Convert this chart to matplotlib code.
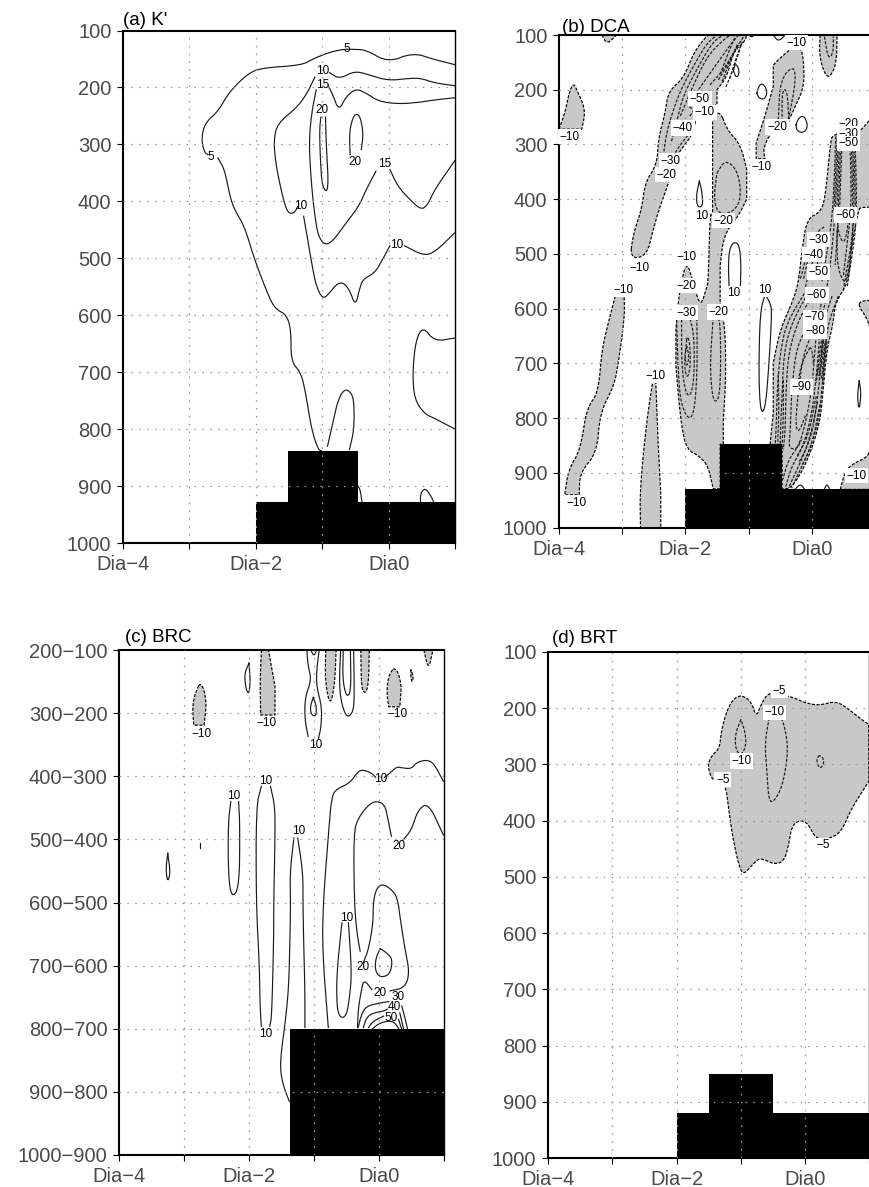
import matplotlib
matplotlib.use("Agg")
import matplotlib.pyplot as plt

W, H = 870, 1187
plt.rcParams['font.family'] = ['Liberation Sans', 'DejaVu Sans']

DAY_TICKS = [-4, -3, -2, -1, 0, 1]
DAY_LABELS = ['Dia\u22124', '', 'Dia\u22122', '', 'Dia0', '']
P_TICKS = [100, 200, 300, 400, 500, 600, 700, 800, 900, 1000]
C_TICKS = [150, 250, 350, 450, 550, 650, 750, 850, 950]
C_LABELS = ['200\u2212100', '300\u2212200', '400\u2212300', '500\u2212400', '600\u2212500',
            '700\u2212600', '800\u2212700', '900\u2212800', '1000\u2212900']

# ---------- panel (a) K' : contour lines as (day, hPa) ----------
a_5_main = [(1.0,160),(.69,151),(.37,139),(-.01,156),(-.34,134),(-.54,133),(-.69,133),(-.91,139),(-1.14,150),(-1.31,161),
            (-1.94,166),(-2.14,178),(-2.34,201),(-2.44,216),(-2.57,242),(-2.77,263),(-2.82,292),(-2.77,315),(-2.72,318)]
a_5_low = [(-2.57,324),(-2.47,344),(-2.39,391),(-2.32,415),(-2.17,444),(-2.02,502),(-1.79,572),(-1.69,590),(-1.54,599),
           (-1.47,625),(-1.47,681),(-1.32,701),(-1.25,736),(-1.16,801),(-1.06,836),(-1.01,838)]
a_10_top = [(-.89,174),(-.74,185),(-.51,171),(-.29,178),(-.01,188),(.32,184),(.49,184),(.69,192),(1.0,197)]
a_10_left = [(-1.11,182),(-1.24,213),(-1.39,236),(-1.67,263),(-1.73,292),(-1.70,333),(-1.62,380),(-1.54,415),(-1.48,422),(-1.41,419),(-1.37,409)]
a_10_mid = [(-1.28,426),(-1.21,473),(-1.15,514),(-1.09,549),(-.99,572),(-.89,561),(-.79,546),(-.69,542),(-.59,555),(-.50,584),
            (-.44,555),(-.39,537),(-.21,526),(-.09,502),(.02,478)]
a_10_right = [(.24,478),(.52,495),(.69,490),(1.0,455)]
a_15_right = [(-.91,197),(-.84,213),(-.75,241),(-.64,216),(-.49,202),(-.34,210),(-.14,225),(.17,229),(.47,226),(.69,222),(1.0,218)]
a_15_left = [(-1.09,204),(-1.16,245),(-1.20,298),(-1.16,374),(-1.11,426),(-1.06,461),(-.96,477),(-.84,470),(-.64,438),(-.45,409),(-.34,380),(-.19,347)]
a_15_low = [(.02,344),(.14,374),(.32,397),(.49,415),(.59,406),(.69,380),(1.0,328)]
a_20_left = [(-.95,252),(-.94,298),(-.90,384),(-1.0,377),(-1.03,321),(-1.04,274),(-1.02,252)]
a_20_right = [(-.58,318),(-.59,280),(-.55,257),(-.50,246),(-.43,250),(-.38,280),(-.41,309)]
a_lobe_mid = [(-.92,830),(-.84,789),(-.76,748),(-.66,729),(-.56,736),(-.52,754),(-.52,801),(-.59,836)]
a_lobe_foot = [(-.46,900),(-.43,906),(-.40,928)]
a_lobe_right = [(1.0,640),(.69,646),(.52,620),(.41,643),(.36,701),(.39,748),(.54,773),(.69,781),(1.0,800)]
a_lobe_base = [(.48,929),(.48,913),(.55,903),(.64,918),(.68,928)]
a_lines = [a_5_main, a_5_low, a_10_top, a_10_left, a_10_mid, a_10_right, a_15_right, a_15_left, a_15_low,
           a_20_left, a_20_right, a_lobe_mid, a_lobe_foot, a_lobe_right, a_lobe_base]
a_labels = [(-.63,133,'5'),(-2.68,322,'5'),(-1.0,172,'10'),(-1.0,195,'15'),(-1.0,240,'20'),(-.5,331,'20'),
            (-.06,335,'15'),(-1.32,408,'10'),(.12,477,'10')]
a_terrain_day = [-2, -1.51, -.46, 1]
a_terrain_p = [928, 838, 928, 928]

# ---------- panel (b) DCA ----------
b_s1 = [(-4.0,272),(-3.90,240),(-3.84,205),(-3.77,187),(-3.70,205),(-3.62,225),(-3.59,245),(-3.64,272)]
b_s2 = [(-3.32,100),(-3.24,117),(-3.09,100)]
b_s3 = [(-2.88,509),(-2.82,461),(-2.69,418),(-2.64,370),(-2.45,336),(-2.43,291),(-2.32,242),(-2.27,203),(-2.03,179),(-1.87,133),
        (-1.71,108),(-1.64,100),(-1.03,100),(-1.06,112),(-1.24,130),(-1.34,176),(-1.50,200),(-1.50,227),(-1.82,242),(-1.87,279),
        (-2.03,303),(-2.14,321),(-2.30,382),(-2.40,412),(-2.51,455),(-2.61,503)]
b_s4 = [(-1.45,239),(-1.34,273),(-1.13,300),(-1.03,345),(-1.03,400),(-1.16,430),(-1.29,448),(-1.40,473),(-1.45,521),(-1.45,589),
        (-1.37,638),(-1.36,729),(-1.40,802),(-1.40,848),(-1.45,848),(-1.45,929),(-1.56,929),(-1.64,888),(-1.77,870),(-1.98,857),
        (-2.06,815),(-2.11,760),(-2.15,705),(-2.15,638),(-2.12,595),(-2.08,560),(-1.98,512),(-1.87,555),(-1.76,598),(-1.66,559),
        (-1.64,552),(-1.61,424),(-1.57,430),(-1.57,250)]
b_s5 = [(-3.11,577),(-3.22,626),(-3.32,674),(-3.38,754),(-3.56,781),(-3.66,857),(-3.85,894),(-3.91,940),(-3.68,940),(-3.67,900),
        (-3.40,863),(-3.35,790),(-3.13,741),(-3.06,699),(-2.96,613),(-2.97,577)]
b_s6 = [(-2.51,729),(-2.61,802),(-2.72,930),(-2.71,1000),(-2.39,1000),(-2.39,937),(-2.43,851),(-2.47,729)]
b_s7 = [(-.66,848),(-.61,790),(-.61,699),(-.50,638),(-.29,583),(-.21,551),(-.16,497),(-.08,436),(.13,424),(.21,400),(.29,303),(.33,279),
        (.71,282),(.92,255),(1.0,245),(1.0,412),(.87,415),(.79,415),(.74,418),(.63,485),(.58,552),(.37,589),(.34,626),(.24,674),(.18,748),
        (.13,809),(-.08,882),(-.32,928),(-.47,929),(-.47,848)]
b_s8 = [(.74,595),(.77,586),(1.0,584),(1.0,660),(.92,635),(.87,617)]
b_s9 = [(.45,930),(.52,900),(.62,885),(.90,870),(.92,850),(1.0,840),(1.0,930)]
b_s10 = [(-.32,124),(-.18,121),(-.13,145),(-.12,194),(-.26,230),(-.37,258),(-.66,279),(-.77,309),(-.74,326),(-.88,326),(-.88,297),
         (-.74,248),(-.61,194),(-.61,155),(-.50,142)]
b_s11 = [(.13,100),(.12,139),(.21,173),(.29,177),(.39,152),(.40,100)]
b_shaded = [b_s1, b_s2, b_s3, b_s4, b_s5, b_s6, b_s7, b_s8, b_s9, b_s10, b_s11]

b_in1 = [(-2.35,321),(-2.30,279),(-2.19,236),(-2.06,197),(-1.85,152),(-1.66,115),(-1.50,100)]
b_in2 = [(-2.22,294),(-2.12,250),(-2.03,209),(-1.77,152),(-1.56,112),(-1.40,100)]
b_in3 = [(-2.16,315),(-2.06,297),(-1.93,279)]
b_in4 = [(-2.08,248),(-1.93,206),(-1.66,139),(-1.40,109),(-1.29,100)]
b_in5 = [(-1.93,248),(-1.85,236),(-1.98,230),(-1.50,152),(-1.29,118),(-1.16,100)]
b_in6 = [(-1.61,191),(-1.40,164),(-1.21,127),(-1.08,103)]
b_in7 = [(-1.48,182),(-1.35,158),(-1.16,115)]
b_in8 = [(-1.50,352),(-1.37,328),(-1.19,345),(-1.12,382),(-1.16,412),(-1.32,427),(-1.50,424),(-1.55,394),(-1.50,352)]
b_in9 = [(-2.14,613),(-2.12,699),(-2.08,772),(-1.94,805),(-1.85,784),(-1.81,699),(-1.82,613)]
b_in10 = [(-2.06,620),(-2.06,699),(-2.01,748),(-1.93,763),(-1.86,729),(-1.86,650),(-1.93,616)]
b_in11 = [(-1.98,656),(-2.02,705),(-1.97,729),(-1.92,705),(-1.93,662),(-1.97,650),(-1.98,656)]
b_in12 = [(-1.98,668),(-2.01,687),(-1.98,708),(-1.94,687),(-1.98,668)]
b_in13 = [(-1.56,616),(-1.61,699),(-1.58,754),(-1.53,772),(-1.46,760),(-1.44,699),(-1.45,626),(-1.50,613)]
b_in14 = [(-.53,255),(-.50,182),(-.29,155),(-.25,182),(-.37,255)]
b_in15 = [(-.47,258),(-.47,200),(-.39,200),(-.36,258)]
b_in16 = [(.2,103),(.26,144),(.34,133),(.34,103)]
b_in17 = [(-1.36,195),(-1.25,165),(-1.15,130),(-1.10,112)]
b_in18 = [(-1.30,180),(-1.22,150),(-1.12,118)]
b_in19 = [(-1.42,185),(-1.30,150),(-1.18,118)]
b_in20 = [(-1.45,172),(-1.33,135),(-1.22,105)]
b_u1 = [(.38,285),(.36,350),(.33,420),(.28,470),(.22,510),(.16,550)]
b_u2 = [(.42,285),(.40,350),(.37,420),(.33,480),(.28,530),(.24,560)]
b_u3 = [(.46,290),(.44,350),(.42,420),(.40,470),(.37,520)]
b_u4 = [(.68,285),(.70,350),(.71,420),(.68,470),(.60,530),(.56,560)]
b_u5 = [(.64,285),(.66,350),(.67,420),(.63,480),(.55,530),(.50,565)]
b_u6 = [(.60,290),(.62,350),(.62,420),(.57,470),(.50,540)]
b_u7 = [(.40,430),(.42,461),(.50,482),(.56,461),(.58,430)]
b_u8 = [(.40,455),(.40,520),(.50,552),(.56,546),(.63,490),(.66,433)]
b_u9 = [(-.18,545),(-.05,490),(.08,460),(.2,450)]
b_u10 = [(-.13,545),(-.04,500),(.05,475),(.13,480),(.15,520)]
b_u11 = [(-.1,560),(-.02,520),(.08,505),(.12,540)]
b_u12 = [(.40,290),(.38,350),(.35,420)]
b_u13 = [(.44,288),(.42,350),(.395,420)]
b_u14 = [(.48,295),(.46,350),(.44,420)]
b_u15 = [(.66,288),(.68,350),(.69,420)]
b_u16 = [(.62,288),(.64,350),(.645,420)]
b_l1 = [(-.08,565),(-.40,626),(-.50,680),(-.55,754),(-.56,808),(-.58,850)]
b_l2 = [(-.03,565),(-.32,626),(-.44,680),(-.47,754),(-.49,808),(-.50,850)]
b_l3 = [(.03,571),(-.21,620),(-.37,680),(-.41,754),(-.42,820),(-.45,857)]
b_l4 = [(-.03,626),(-.24,668),(-.32,748),(-.34,827),(-.37,854),(-.24,857),(-.16,839)]
b_l5 = [(.05,635),(-.13,680),(-.21,748),(-.26,810),(-.21,828),(-.10,795)]
b_l6 = [(-.53,720),(-.52,790),(-.54,850)]
b_l7 = [(-.45,730),(-.45,800),(-.47,850)]
b_r1 = [(.42,577),(.26,626),(.21,674),(.16,748),(.11,803),(-.03,857),(-.18,893),(-.32,928)]
b_r2 = [(.32,577),(.18,626),(.16,674),(.11,748),(.03,809),(-.11,863),(-.26,900),(-.37,928)]
b_r3 = [(.24,577),(.13,626),(.11,674),(.05,748),(-.03,809),(-.16,857),(-.32,888),(-.42,928)]
b_r4 = [(.16,583),(.08,638),(.05,674),(0,748),(-.11,815),(-.21,851),(-.37,876),(-.46,912)]
b_r5 = [(.21,662),(.16,699),(.11,723)]
b_r6 = [(.18,656),(.13,699),(.08,723)]
b_r7 = [(-.03,671),(-.16,699),(-.21,729)]
b_r8 = [(.03,699),(0,674),(-.03,671)]
b_r9 = [(.23,655),(.19,690),(.15,730)]
b_r10 = [(.20,650),(.15,690),(.12,730)]
b_r11 = [(.16,650),(.11,695),(.07,735)]
b_r12 = [(.24,660),(.20,700),(.17,735)]
b_r13 = [(.09,770),(-.02,840),(-.2,880)]
b_r14 = [(.07,760),(-.06,835),(-.24,870)]
b_r15 = [(.13,775),(0,850),(-.15,885)]
b_dashed = [b_in1, b_in2, b_in3, b_in4, b_in5, b_in6, b_in7, b_in8, b_in9, b_in10, b_in11, b_in12, b_in13, b_in14, b_in15, b_in16,
            b_in17, b_in18, b_in19, b_in20,
            b_u1, b_u2, b_u3, b_u4, b_u5, b_u6, b_u7, b_u8, b_u9, b_u10, b_u11, b_u12, b_u13, b_u14, b_u15, b_u16,
            b_l1, b_l2, b_l3, b_l4, b_l5, b_l6, b_l7, b_r1, b_r2, b_r3, b_r4, b_r5, b_r6, b_r7, b_r8, b_r9, b_r10, b_r11,
            b_r12, b_r13, b_r14, b_r15]

b_p1 = [(-1.24,165),(-1.21,152),(-1.16,160),(-1.15,172),(-1.20,178),(-1.24,165)]
b_p2 = [(-.87,206),(-.84,194),(-.79,188),(-.72,197),(-.71,209),(-.76,218),(-.84,215),(-.87,206)]
b_p3 = [(-.25,264),(-.21,252),(-.13,247),(-.07,261),(-.08,273),(-.16,279),(-.24,274),(-.25,264)]
b_p4 = [(-1.78,367),(-1.83,394),(-1.81,415),(-1.72,412),(-1.74,385),(-1.78,367)]
b_p5 = [(-1.31,562),(-1.32,515),(-1.30,491),(-1.24,478),(-1.15,482),(-1.12,515),(-1.13,562)]
b_p6 = [(-.74,574),(-.66,589),(-.63,607),(-.69,723),(-.74,784),(-.81,790),(-.84,723),(-.82,607),(-.74,574)]
b_p7 = [(.75,732),(.78,754),(.75,787),(.72,760),(.75,732)]
b_p8 = [(-.26,929),(-.18,920),(-.12,929)]
b_p9 = [(.2,929),(.24,920),(.28,929)]
b_p10 = [(-.61,100),(-.53,112),(-.42,100)]
b_p11 = [(-1.0,100),(-.95,104),(-.91,100)]
b_solid = [b_p1, b_p2, b_p3, b_p4, b_p5, b_p6, b_p7, b_p8, b_p9, b_p10, b_p11]

b_labels = [(-3.83,286,'\u221210'),(-.24,114,'\u221210'),(-.55,268,'\u221220'),(-.79,341,'\u221210'),(-1.69,241,'\u221210'),
            (-1.77,216,'\u221250'),(-2.04,270,'\u221240'),(-2.24,330,'\u221230'),(-2.30,355,'\u221220'),(-1.40,439,'\u221220'),
            (-1.98,506,'\u221210'),(-2.72,526,'\u221210'),(-1.98,558,'\u221220'),(-1.98,607,'\u221230'),(-1.48,606,'\u221220'),
            (-2.98,565,'\u221210'),(-3.73,955,'\u221210'),(-2.48,722,'\u221210'),(-1.74,430,'10'),(-1.24,572,'10'),(-.74,565,'10'),
            (.11,474,'\u221230'),(.03,501,'\u221240'),(.11,533,'\u221250'),(.08,575,'\u221260'),(.05,616,'\u221270'),(.05,641,'\u221280'),
            (-.16,743,'\u221290'),(.53,429,'\u221260'),(.58,262,'\u221220'),(.58,280,'\u221230'),(.58,298,'\u221250'),(.71,905,'\u221210')]
b_terrain_day = [-2, -1.45, -.47, 1]
b_terrain_p = [929, 848, 929, 929]

# ---------- panel (c) BRC ----------
c_s1 = [(-2.74,199),(-2.83,219),(-2.87,240),(-2.85,269),(-2.69,269),(-2.65,229)]
c_s2 = [(-1.81,150),(-1.83,203),(-1.82,253),(-1.60,253),(-1.60,208),(-1.70,150)]
c_s3 = [(-.82,150),(-.83,200),(-.75,240),(-.68,203),(-.66,150)]
c_s4 = [(-.28,150),(-.27,213),(-.20,219),(-.16,200),(-.15,150)]
c_s5 = [(.25,175),(.14,192),(.12,219),(.15,240),(.32,240),(.35,203)]
c_s6 = [(.49,181),(.49,192),(.51,202),(.53,192)]
c_s7 = [(.69,150),(.76,182),(.83,150)]
c_shaded = [c_s1, c_s2, c_s3, c_s4, c_s5, c_s6, c_s7]

c_l1 = [(-2.0,171),(-2.07,187),(-2.05,211),(-2.0,221),(-1.98,197),(-2.0,171)]
c_l2 = [(-1.11,150),(-1.09,176),(-1.04,197),(-1.14,226),(-1.14,261),(-1.09,287)]
c_l3 = [(-.92,150),(-.96,182),(-.96,208),(-.88,240),(-.89,271),(-.93,290)]
c_l4 = [(-1.01,225),(-1.06,240),(-1.04,253),(-.97,255),(-.96,240),(-1.01,225)]
c_l5 = [(-1.05,150),(-1.0,160),(-.96,150)]
c_l6 = [(-.59,150),(-.61,197),(-.59,229),(-.50,258),(-.39,248),(-.38,213),(-.39,150)]
c_l7 = [(-.55,150),(-.56,197),(-.50,225),(-.43,216),(-.44,150)]
c_10a = [(.99,358),(.84,329),(.73,324),(.58,328),(.50,338),(.37,337),(.27,335),(.17,345),(.08,352)]
c_10b = [(-.05,352),(-.11,345),(-.24,340),(-.32,342),(-.45,361),(-.65,370),(-.73,382),(-.78,445),(-.86,551),(-.87,629),(-.78,748)]
c_20a = [(.99,443),(.76,392),(.60,403),(.50,435),(.37,451)]
c_20b = [(.19,445),(.14,419),(.09,395),(-.04,389),(-.16,395),(-.32,416),(-.39,440),(-.38,551),(-.34,598),(-.29,627)]
c_20c = [(-.24,645),(-.16,624),(-.09,582),(-.09,551),(-.04,527),(.07,520),(.25,535),(.30,553),(.32,571),(.40,624),
         (.47,661),(.40,685),(.17,690)]
c_20d = [(-.11,688),(-.23,672),(-.27,688),(-.32,719),(-.33,748)]
c_l8 = [(.02,623),(-.05,638),(-.06,658),(.02,669),(.17,664),(.21,640),(.12,630),(.02,623)]
c_l9 = [(-.57,582),(-.65,661),(-.65,714),(-.60,733),(-.50,730),(-.45,698),(-.42,661),(-.47,582)]
c_l10 = [(-1.81,366),(-1.89,398),(-1.89,551),(-1.84,650),(-1.83,714),(-1.81,746)]
c_l11 = [(-1.67,366),(-1.60,398),(-1.60,451),(-1.62,551),(-1.62,608),(-1.65,730),(-1.68,746)]
c_l12 = [(-2.28,390),(-2.32,424),(-2.32,503),(-2.27,543),(-2.15,527),(-2.14,429),(-2.16,390)]
c_l13 = [(-1.31,448),(-1.37,503),(-1.36,551),(-1.37,608),(-1.39,688),(-1.45,746),(-1.50,783),(-1.52,815),(-1.47,841),(-1.38,865)]
c_l14 = [(-1.25,448),(-1.17,503),(-1.17,551),(-1.16,608),(-1.14,688),(-1.14,748)]
c_l15 = [(-3.25,472),(-3.28,498),(-3.25,518),(-3.21,503),(-3.25,472)]
c_l16 = [(-2.75,456),(-2.75,464)]
c_30 = [(-.32,748),(-.27,727),(-.19,714),(.02,709),(.15,707)]
c_30b = [(.35,714),(.40,733),(.44,751)]
c_40 = [(-.24,748),(-.19,732),(-.09,725),(.07,722),(.13,719)]
c_40b = [(.32,725),(.38,751)]
c_50 = [(-.16,748),(-.09,738),(.07,730)]
c_50b = [(.30,735),(.35,751)]
c_60 = [(-.11,751),(.02,740),(.22,737),(.31,751)]
c_lines = [c_l1, c_l2, c_l3, c_l4, c_l5, c_l6, c_l7, c_10a, c_10b, c_20a, c_20b, c_20c, c_20d, c_l8, c_l9, c_l10, c_l11, c_l12,
           c_l13, c_l14, c_l15, c_l16, c_30, c_30b, c_40, c_40b, c_50, c_50b, c_60]
c_labels = [(-2.73,283,'\u221210'),(-1.73,265,'\u221210'),(.28,251,'\u221210'),(-.98,301,'10'),(.02,355,'10'),(-1.74,357,'10'),
            (-2.24,381,'10'),(-1.24,437,'10'),(.31,460,'20'),(-.50,574,'10'),(-.24,652,'20'),(-1.74,759,'10'),(.01,693,'20'),
            (.30,699,'30'),(.23,716,'40'),(.19,733,'50')]
c_terrain_day = [-1.37, 1.02]
c_terrain_p = [750, 750]

# ---------- panel (d) BRT ----------
d_s1 = [(-1.44,330),(-1.52,303),(-1.46,285),(-1.33,271),(-1.31,244),(-1.23,208),(-1.13,185),(-1.00,176),(-.84,188),(-.76,216),(-.69,194),
        (-.58,173),(-.46,176),(-.22,179),(.01,191),(.22,195),(.48,187),(.68,202),(.84,217),(.99,229),(.99,330),(.71,380),(.58,416),(.42,431),
        (.17,434),(.04,404),(-.09,399),(-.21,410),(-.26,445),(-.33,472),(-.48,478),(-.71,465),(-.84,481),(-.96,496),(-1.03,481),(-1.13,428),
        (-1.19,380),(-1.24,333)]
d_shaded = [d_s1]
d_n1 = [(-1.00,220),(-1.09,247),(-1.08,274),(-1.00,284),(-.92,268),(-.93,244),(-1.00,220)]
d_n2 = [(-.56,217),(-.63,262),(-.59,321),(-.57,359),(-.51,370),(-.35,339),(-.26,274),(-.33,226),(-.43,208)]
d_n3 = [(.22,284),(.17,291),(.22,308),(.29,300),(.28,288),(.22,284)]
d_dashed = [d_n1, d_n2, d_n3]
d_labels = [(-.40,169,'\u22125'),(-.48,207,'\u221210'),(-.99,294,'\u221210'),(-1.28,327,'\u22125'),(.28,444,'\u22125')]
d_terrain_day = [-2, -1.5, -.5, 1]
d_terrain_p = [920, 850, 920, 920]

TICK_COLOR = '#4a4a4a'
GREY = '#c8c8c8'
GRID_COLOR = '#9a9a9a'
GRID_DASH = (0, (1.3, 5))
DASH = (0, (2.6, 1.3))


def make_axes(fig, left, right, top, bottom):
    return fig.add_axes([left / W, 1 - bottom / H, (right - left) / W, (bottom - top) / H])


def style(ax, ylim, yticks, ylabels, title, offs, grid_stop=None):
    ax.set_xlim(-4, 1)
    ax.set_ylim(*ylim)
    ax.set_xticks(DAY_TICKS, DAY_LABELS)
    ax.set_yticks(yticks, ylabels)
    ax.tick_params(axis='x', length=4.3, width=0.8, pad=4.5, labelsize=14.5, labelcolor=TICK_COLOR)
    ax.tick_params(axis='y', length=4.3, width=0.8, pad=4, labelsize=14.5, labelcolor=TICK_COLOR)
    for s in ax.spines.values():
        s.set_linewidth(1.5)
    ax.spines['right'].set_linewidth(1.0)
    for x in DAY_TICKS[1:-1]:
        ax.axvline(x, color=GRID_COLOR, lw=0.9, ls=GRID_DASH, zorder=6)
    for y in yticks[1:-1]:
        x1 = (grid_stop or {}).get(y, 1)
        ax.plot([-4, x1], [y, y], color=GRID_COLOR, lw=0.9, ls=GRID_DASH, zorder=6)
    ax.annotate(title, xy=(0, 1), xycoords='axes fraction', xytext=offs, textcoords='offset points',
                fontsize=13.5, color='black', va='baseline', ha='left', annotation_clip=False, zorder=10)


def terrain(ax, days, ps, floor):
    ax.fill_between(days, ps, floor, step='post', color='black', lw=0, zorder=5)


def rounded(path, closed=False):
    """Corner cutting of the drawn line only, so contours look as smooth as the original's."""
    pts = list(path)
    for _ in range(2):
        out = [] if closed else [pts[0]]
        seq = pts + pts[:1] if closed else pts
        for p, q in zip(seq[:-1], seq[1:]):
            out.append((.75 * p[0] + .25 * q[0], .75 * p[1] + .25 * q[1]))
            out.append((.25 * p[0] + .75 * q[0], .25 * p[1] + .75 * q[1]))
        if not closed:
            out.append(pts[-1])
        pts = out
    return pts + pts[:1] if closed else pts


def pinned(poly):
    """Repeat the corners of a straight cut (panel edge, flat bottom) so rounding leaves them in place."""
    out = []
    n = len(poly)
    for i, p in enumerate(poly):
        a, b = poly[i - 1], poly[(i + 1) % n]
        flat = p[1] in (a[1], b[1]) or p[0] in (a[0], b[0])
        out.extend([p, p, p] if flat else [p])
    return out


def draw(ax, path, ls, lw=0.85, z=3, color='#1a1a1a'):
    pts = rounded(path)
    ax.plot([q[0] for q in pts], [q[1] for q in pts], color=color, lw=lw, ls=ls, zorder=z,
            solid_joinstyle='round', dash_capstyle='butt')


def shaded(ax, polys):
    for poly in polys:
        pts = rounded(pinned(poly), closed=True)
        xs, ys = [q[0] for q in pts], [q[1] for q in pts]
        ax.fill(xs, ys, fc=GREY, ec='none', zorder=2)
        ax.plot(xs, ys, color='black', lw=0.85, ls=DASH, zorder=3, dash_capstyle='butt')


def labels(ax, items, boxed):
    for x, y, s in items:
        bb = dict(fc='white', ec='none', pad=1.2) if boxed else None
        ax.text(x, y, s, fontsize=8.5, ha='center', va='center', color='black', bbox=bb, zorder=8)


fig = plt.figure(figsize=(W / 100, H / 100), dpi=100, facecolor='white')

ax_a = make_axes(fig, 123, 455, 30.5, 543)
style(ax_a, (1000, 100), P_TICKS, [str(v) for v in P_TICKS], "(a) K'", (0, 4.3))
for path in a_lines:
    draw(ax_a, path, '-')
terrain(ax_a, a_terrain_day, a_terrain_p, 1000)
labels(ax_a, a_labels, False)

ax_b = make_axes(fig, 559, 875, 35, 527.7)
style(ax_b, (1000, 100), P_TICKS, [str(v) for v in P_TICKS], '(b) DCA', (2, 2.2))
shaded(ax_b, b_shaded)
for path in b_dashed:
    draw(ax_b, path, DASH)
for path in b_solid:
    draw(ax_b, path, '-')
terrain(ax_b, b_terrain_day, b_terrain_p, 1000)
labels(ax_b, b_labels, True)

ax_c = make_axes(fig, 119, 444, 650, 1155)
style(ax_c, (950, 150), C_TICKS, C_LABELS, '(c) BRC', (4, 5.8), grid_stop={750: -1.37})
shaded(ax_c, c_shaded)
for path in c_lines:
    draw(ax_c, path, '-')
terrain(ax_c, c_terrain_day, c_terrain_p, 950)
labels(ax_c, c_labels, False)

ax_d = make_axes(fig, 548, 869.5, 652, 1158)
style(ax_d, (1000, 100), P_TICKS, [str(v) for v in P_TICKS], '(d) BRT', (3, 6.5))
shaded(ax_d, d_shaded)
for path in d_dashed:
    draw(ax_d, path, DASH)
terrain(ax_d, d_terrain_day, d_terrain_p, 1000)
labels(ax_d, d_labels, True)

fig.savefig('out.png', dpi=100, facecolor='white')
